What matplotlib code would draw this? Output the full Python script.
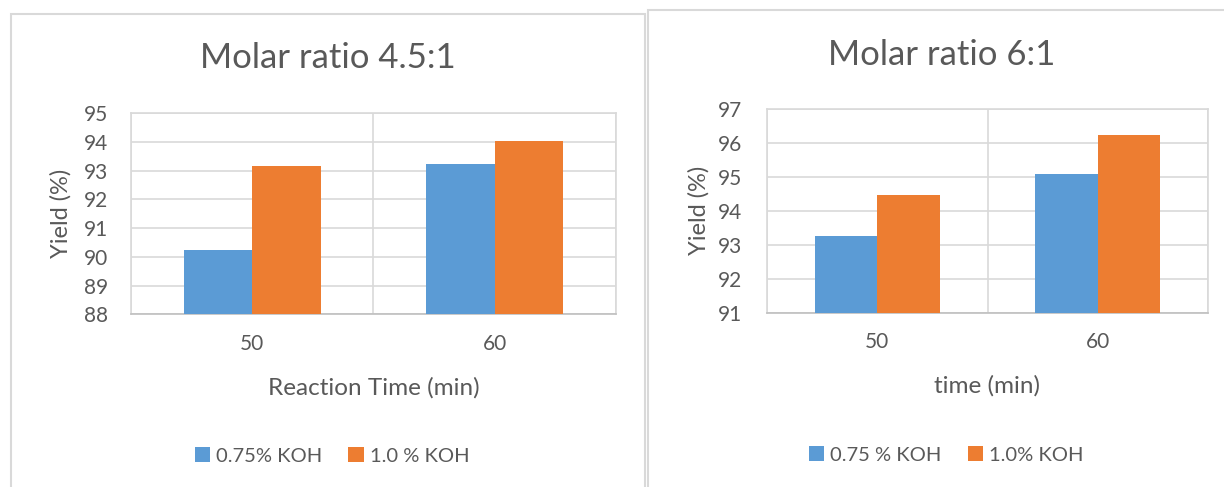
import matplotlib.pyplot as plt
from matplotlib.patches import Rectangle

plt.rcParams['font.family'] = ['Lato', 'DejaVu Sans']

times = ['50', '60']
left_title = 'Molar ratio 4.5:1'
left_xlabel = 'Reaction Time (min)'
left_names = ['0.75% KOH', '1.0 % KOH']
left_koh075 = [90.23, 93.25]
left_koh100 = [93.16, 94.03]
left_ylim = (88, 95)

right_title = 'Molar ratio 6:1'
right_xlabel = 'time (min)'
right_names = ['0.75 % KOH', '1.0% KOH']
right_koh075 = [93.26, 95.09]
right_koh100 = [94.48, 96.24]
right_ylim = (91, 97)

BLUE = '#5B9BD5'
ORANGE = '#ED7D31'
GRID = '#D9D9D9'
TEXT = '#595959'

W, H = 1224, 487
fig = plt.figure(figsize=(W / 100, H / 100), dpi=100)


def px_axes(x0, x1, top, bottom):
    return fig.add_axes([x0 / W, (H - bottom) / H, (x1 - x0) / W, (bottom - top) / H])


def panel(x0, x1, top):
    fig.patches.append(Rectangle((x0 / W, -0.05), (x1 - x0) / W, (H - top) / H + 0.05,
                                 transform=fig.transFigure, fill=False,
                                 edgecolor=GRID, linewidth=1.5))


def draw(ax, s1, s2, names, ylim, xlabel, ylabel_x, xlabel_y, ypad):
    pos = list(range(len(times)))
    w = 0.283
    ax.bar([p - w / 2 for p in pos], s1, width=w, color=BLUE, label=names[0], zorder=3)
    ax.bar([p + w / 2 for p in pos], s2, width=w, color=ORANGE, label=names[1], zorder=3)
    ax.set_xlim(-0.5, len(times) - 0.5)
    ax.set_ylim(*ylim)
    ax.set_yticks(range(ylim[0], ylim[1] + 1))
    ax.set_xticks(pos)
    ax.set_xticklabels(times)
    ax.set_xticks([p - 0.5 for p in range(len(times) + 1)], minor=True)
    ax.grid(axis='y', color=GRID, linewidth=1.2, zorder=0)
    ax.grid(axis='x', which='minor', color=GRID, linewidth=1.2, zorder=0)
    ax.tick_params(axis='both', which='both', length=0, colors=TEXT, labelsize=15)
    ax.tick_params(axis='y', pad=ypad)
    ax.tick_params(axis='x', pad=14)
    for s in ax.spines.values():
        s.set_color(GRID)
        s.set_linewidth(1.2)
    ax.spines['bottom'].set_color('#BFBFBF')
    ax.set_ylabel('Yield (%)', fontsize=17, color=TEXT)
    ax.set_xlabel(xlabel, fontsize=17.5, color=TEXT)
    ax.yaxis.set_label_coords(ylabel_x, 0.5)
    ax.xaxis.set_label_coords(0.5, xlabel_y)


panel(10.5, 645, 14)
panel(647.5, 1240, 10)

ax1 = px_axes(131, 615.7, 113.3, 314.3)
draw(ax1, left_koh075, left_koh100, left_names, left_ylim, left_xlabel, -0.122, -0.31, 16.5)
fig.text(328 / W, 1 - 58 / H, left_title, ha='center', va='center', fontsize=25, color=TEXT)
fig.legend(*ax1.get_legend_handles_labels(), loc='center', bbox_to_anchor=(332 / W, 1 - 456 / H),
           ncol=2, frameon=False, fontsize=14.5, labelcolor=TEXT, handlelength=0.75,
           handleheight=0.75, handletextpad=0.3, columnspacing=1.3)

ax2 = px_axes(767.3, 1207.7, 109, 312.7)
draw(ax2, right_koh075, right_koh100, right_names, right_ylim, right_xlabel, -0.13, -0.305, 18)
fig.text(942 / W, 1 - 55 / H, right_title, ha='center', va='center', fontsize=25, color=TEXT)
fig.legend(*ax2.get_legend_handles_labels(), loc='center', bbox_to_anchor=(946 / W, 1 - 455 / H),
           ncol=2, frameon=False, fontsize=14.5, labelcolor=TEXT, handlelength=0.75,
           handleheight=0.75, handletextpad=0.3, columnspacing=1.3)

fig.savefig('out.png', dpi=100)
